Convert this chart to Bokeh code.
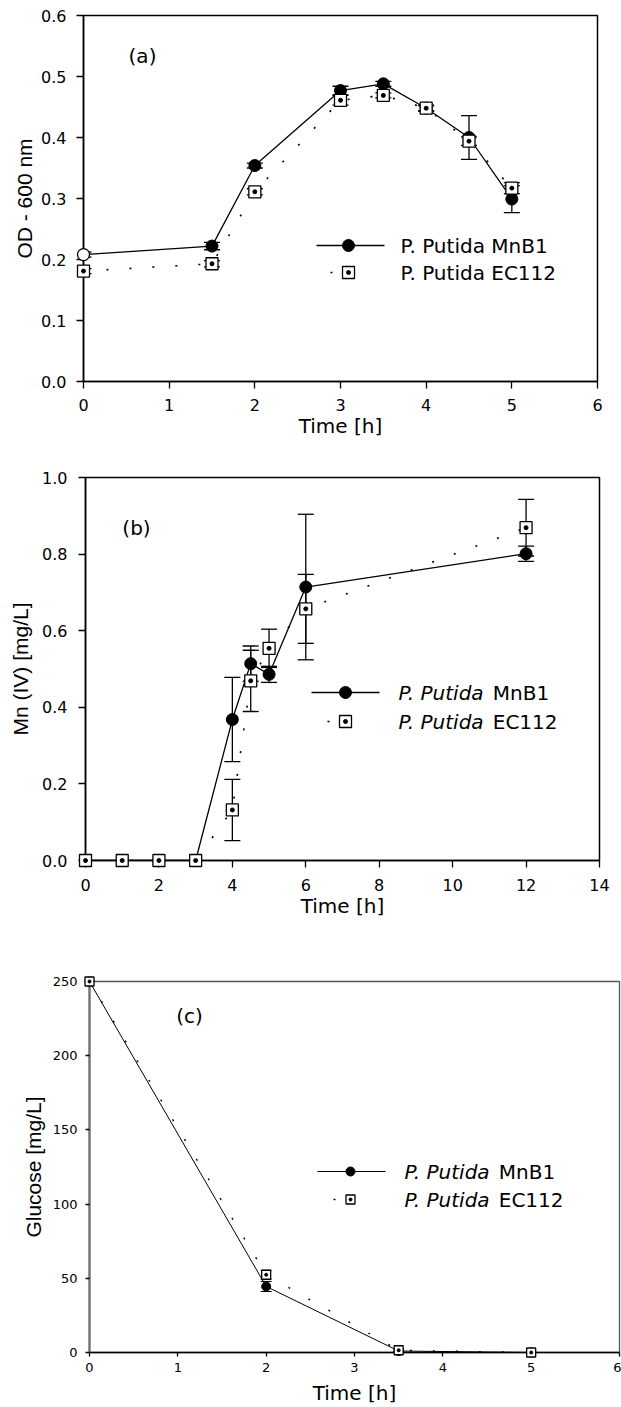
from bokeh.plotting import figure
from bokeh.layouts import column
from bokeh.models import (Range1d, Whisker, TeeHead, ColumnDataSource, Label,
                          FixedTicker, NumeralTickFormatter)
from bokeh.embed import file_html
from bokeh.resources import INLINE

# ---------------- data ----------------
strain = "P. Putida"
isolates = ["MnB1", "EC112"]

# (a) optical density
a_time = [0, 1.5, 2, 3, 3.5, 4, 4.5, 5]
a_mnb1 = [0.208, 0.222, 0.354, 0.477, 0.488, 0.448, 0.400, 0.299]
a_mnb1_err = [0.004, 0.006, 0.004, 0.007, 0.004, 0.004, 0.036, 0.022]
a_ec112 = [0.181, 0.193, 0.311, 0.461, 0.469, 0.448, 0.394, 0.317]
a_ec112_err = [0.004, 0.005, 0.005, 0.008, 0.004, 0.005, 0.007, 0.009]
a_xticks = [0, 1, 2, 3, 4, 5, 6]
a_yticks = [0.0, 0.1, 0.2, 0.3, 0.4, 0.5, 0.6]

# (b) Mn(IV)
b_time = [0, 1, 2, 3, 4, 4.5, 5, 6, 12]
b_mnb1 = [0, 0, 0, 0, 0.368, 0.514, 0.486, 0.714, 0.801]
b_mnb1_err = [0, 0, 0, 0, 0.110, 0.046, 0.021, 0.190, 0.020]
b_ec112 = [0, 0, 0, 0, 0.132, 0.469, 0.554, 0.657, 0.869]
b_ec112_err = [0, 0, 0, 0, 0.080, 0.080, 0.050, 0.090, 0.074]
b_xticks = [0, 2, 4, 6, 8, 10, 12, 14]
b_yticks = [0.0, 0.2, 0.4, 0.6, 0.8, 1.0]

# (c) glucose
c_time = [0, 2, 3.5, 5]
c_mnb1 = [250, 44.5, 1.0, 0]
c_mnb1_err = [0, 3.4, 0, 0]
c_ec112 = [250, 52.4, 1.5, 0]
c_ec112_err = [0, 3.0, 0.8, 0]
c_xticks = [0, 1, 2, 3, 4, 5, 6]
c_yticks = [0, 50, 100, 150, 200, 250]

FONT = "DejaVu Sans"
VFONT = "Liberation Sans"
W = 621


class Conv:
    """page-pixel -> data conversion for one panel (layout helper only)"""
    def __init__(self, fx0, fx1, fy0, fy1, xr, yr):
        self.fx0, self.fx1, self.fy0, self.fy1, self.xr, self.yr = fx0, fx1, fy0, fy1, xr, yr

    def x(self, px):
        return self.xr[0] + (px - self.fx0) / (self.fx1 - self.fx0) * (self.xr[1] - self.xr[0])

    def y(self, py):
        return self.yr[0] + (self.fy1 - py) / (self.fy1 - self.fy0) * (self.yr[1] - self.yr[0])


def make_panel(top, height, fx0, fx1, fy0, fy1, xr, yr, xticks, yticks, yfmt,
               xlabel, ylabel, tick_fs, tick_out, xs1, ys1, xs2, ys2,
               frame_color="black", yaxis_color="black", yaxis_w=1.5, frame_w=1.5):
    bl = fx0
    br = W - fx1
    bt = fy0 - top
    bb = top + height - fy1
    p = figure(frame_width=fx1 - fx0, frame_height=fy1 - fy0,
               x_range=Range1d(*xr), y_range=Range1d(*yr),
               output_backend="svg", toolbar_location=None,
               min_border_left=bl, min_border_right=br, min_border_top=bt,
               min_border_bottom=bb, background_fill_color="white",
               border_fill_color="white")
    try:
        p.frame_align = False
    except Exception:
        pass
    p.xgrid.visible = False
    p.ygrid.visible = False
    p.outline_line_color = frame_color
    p.outline_line_width = frame_w
    p.outline_line_alpha = 1.0
    p.xaxis.ticker = FixedTicker(ticks=xticks)
    p.yaxis.ticker = FixedTicker(ticks=yticks)
    if yfmt:
        p.yaxis.formatter = NumeralTickFormatter(format=yfmt)
    for ax in (p.xaxis[0], p.yaxis[0]):
        ax.major_tick_in = 0
        ax.major_tick_out = tick_out
        ax.minor_tick_line_color = None
        ax.major_label_text_font = FONT
        ax.major_label_text_font_size = f"{tick_fs}px"
        ax.major_label_text_color = "black"
        ax.major_tick_line_color = "black"
        ax.major_tick_line_width = 1.3
        ax.axis_line_color = "black"
        ax.axis_line_width = frame_w
        ax.axis_label_text_font_style = "normal"
        ax.axis_label_text_color = "black"
    p.xaxis.axis_label = xlabel
    p.xaxis.axis_label_text_font = FONT
    p.xaxis.axis_label_text_font_size = "20px"
    p.xaxis.major_label_standoff = xs1
    p.xaxis.axis_label_standoff = xs2
    p.yaxis.axis_label = ylabel
    p.yaxis.axis_label_text_font = VFONT
    p.yaxis.axis_label_text_font_size = "21px"
    p.yaxis.major_label_standoff = ys1
    p.yaxis.axis_label_standoff = ys2
    p.yaxis.axis_line_color = yaxis_color
    p.yaxis.axis_line_width = yaxis_w
    return p


def add_err(p, x, y, e, cap, lw):
    xs = [xi for xi, ei in zip(x, e) if ei > 0]
    lo = [yi - ei for yi, ei in zip(y, e) if ei > 0]
    hi = [yi + ei for yi, ei in zip(y, e) if ei > 0]
    src = ColumnDataSource(dict(x=xs, lo=lo, hi=hi))
    w = Whisker(source=src, base="x", lower="lo", upper="hi",
                line_color="black", line_width=lw,
                upper_head=TeeHead(size=cap, line_color="black", line_width=lw),
                lower_head=TeeHead(size=cap, line_color="black", line_width=lw),
                level="underlay")
    p.add_layout(w)


def add_series(p, x, y1, e1, y2, e2, ms, ss, ds, lw, dlw, cap, open_first=False):
    add_err(p, x, y1, e1, cap, lw)
    add_err(p, x, y2, e2, cap, lw)
    p.line(x, y1, line_color="black", line_width=lw)
    p.line(x, y2, line_color="black", line_width=dlw, line_dash="2 21")
    if open_first:
        r0 = p.scatter(x[:1], y1[:1], marker="circle", size=ms, fill_color="white",
                       line_color="black", line_width=1.3)
        r0.level = "overlay"
        r1 = p.scatter(x[1:], y1[1:], marker="circle", size=ms, fill_color="black",
                       line_color="black")
    else:
        r1 = p.scatter(x, y1, marker="circle", size=ms, fill_color="black", line_color="black")
    r1.level = "overlay"
    r2 = p.scatter(x, y2, marker="square", size=ss, fill_color="white",
                   line_color="black", line_width=1.3)
    r2.level = "overlay"
    r3 = p.scatter(x, y2, marker="circle", size=ds, fill_color="black", line_color="black")
    r3.level = "overlay"


def add_legend(p, cv, rows, line_px, mark_px, dots_px, text_px, italic, fs,
               ms, ss, ds, lw, dlw):
    y1, y2 = cv.y(rows[0]), cv.y(rows[1])
    p.line([cv.x(line_px[0]), cv.x(line_px[1])], [y1, y1], line_color="black", line_width=lw)
    p.scatter([cv.x(mark_px)], [y1], marker="circle", size=ms, fill_color="black",
              line_color="black")
    d = dots_px[1] - dots_px[0] - 2
    p.line([cv.x(dots_px[0]), cv.x(dots_px[1])], [y2, y2], line_color="black",
           line_width=dlw, line_dash=f"2 {d}")
    p.scatter([cv.x(mark_px)], [y2], marker="square", size=ss, fill_color="white",
              line_color="black", line_width=1.3)
    p.scatter([cv.x(mark_px)], [y2], marker="circle", size=ds, fill_color="black",
              line_color="black")
    for yy, iso in zip((y1, y2), isolates):
        if italic:
            p.add_layout(Label(x=cv.x(text_px), y=yy, text=strain, text_font=FONT,
                               text_font_style="italic", text_font_size=f"{fs}px",
                               text_align="left", text_baseline="middle", text_color="black"))
            off = (4.394 + 0.318) * fs
            p.add_layout(Label(x=cv.x(text_px + off), y=yy, text=iso, text_font=FONT,
                               text_font_size=f"{fs}px", text_align="left",
                               text_baseline="middle", text_color="black"))
        else:
            p.add_layout(Label(x=cv.x(text_px), y=yy, text=f"{strain} {iso}", text_font=FONT,
                               text_font_size=f"{fs}px", text_align="left",
                               text_baseline="middle", text_color="black"))


def add_tag(p, cv, px, py, text):
    p.add_layout(Label(x=cv.x(px), y=cv.y(py), text=text, text_font=FONT,
                       text_font_size="20px", text_align="center",
                       text_baseline="middle", text_color="black"))


# ---------------- panel (a) ----------------
A = dict(top=0, height=440, fx0=83, fx1=597, fy0=15, fy1=381)
cvA = Conv(A["fx0"], A["fx1"], A["fy0"], A["fy1"], (0, 6), (0, 0.6))
pA = make_panel(A["top"], A["height"], A["fx0"], A["fx1"], A["fy0"], A["fy1"],
                (0, 6), (0, 0.6), a_xticks, a_yticks, "0.0", "Time [h]", "OD - 600 nm",
                16, 7, 10, 10, 0, 2)
add_series(pA, a_time, a_mnb1, a_mnb1_err, a_ec112, a_ec112_err,
           12, 12, 4, 1.3, 1.6, 16, open_first=True)
add_legend(pA, cvA, (245, 272), (316, 384), 348, (330, 376), 400, False, 20,
           12, 12, 4, 1.3, 1.6)
add_tag(pA, cvA, 142, 55, "(a)")

# ---------------- panel (b) ----------------
B = dict(top=440, height=485, fx0=85, fx1=599, fy0=477, fy1=860)
cvB = Conv(B["fx0"], B["fx1"], B["fy0"], B["fy1"], (0, 14), (0, 1.0))
pB = make_panel(B["top"], B["height"], B["fx0"], B["fx1"], B["fy0"], B["fy1"],
                (0, 14), (0, 1.0), b_xticks, b_yticks, "0.0", "Time [h]", "Mn (IV) [mg/L]",
                16, 7, 11, 11, 0, 7)
add_series(pB, b_time, b_mnb1, b_mnb1_err, b_ec112, b_ec112_err,
           12, 12, 4, 1.3, 1.6, 16)
add_legend(pB, cvB, (692, 721), (311, 379), 345, (327, 374), 398, True, 20,
           12, 12, 4, 1.3, 1.6)
add_tag(pB, cvB, 136, 527, "(b)")

# ---------------- panel (c) ----------------
C = dict(top=925, height=482, fx0=89, fx1=619, fy0=981, fy1=1352)
cvC = Conv(C["fx0"], C["fx1"], C["fy0"], C["fy1"], (0, 6), (0, 250))
pC = make_panel(C["top"], C["height"], C["fx0"], C["fx1"], C["fy0"], C["fy1"],
                (0, 6), (0, 250), c_xticks, c_yticks, None, "Time [h]", "Glucose [mg/L]",
                13, 4, 6, 8, 6, 5, frame_color="#555555", yaxis_color="#707070",
                yaxis_w=2.3, frame_w=1.3)
pC.xaxis.axis_line_color = "black"
add_series(pC, c_time, c_mnb1, c_mnb1_err, c_ec112, c_ec112_err,
           9, 9, 3, 1.0, 1.4, 11)
add_legend(pC, cvC, (1171, 1199), (317, 385), 350, (333, 378), 404, True, 20,
           9, 9, 3, 1.0, 1.4)
add_tag(pC, cvC, 189, 1015, "(c)")

layout = column(pA, pB, pC, spacing=0)
open("out.html", "w").write(file_html(layout, INLINE))
